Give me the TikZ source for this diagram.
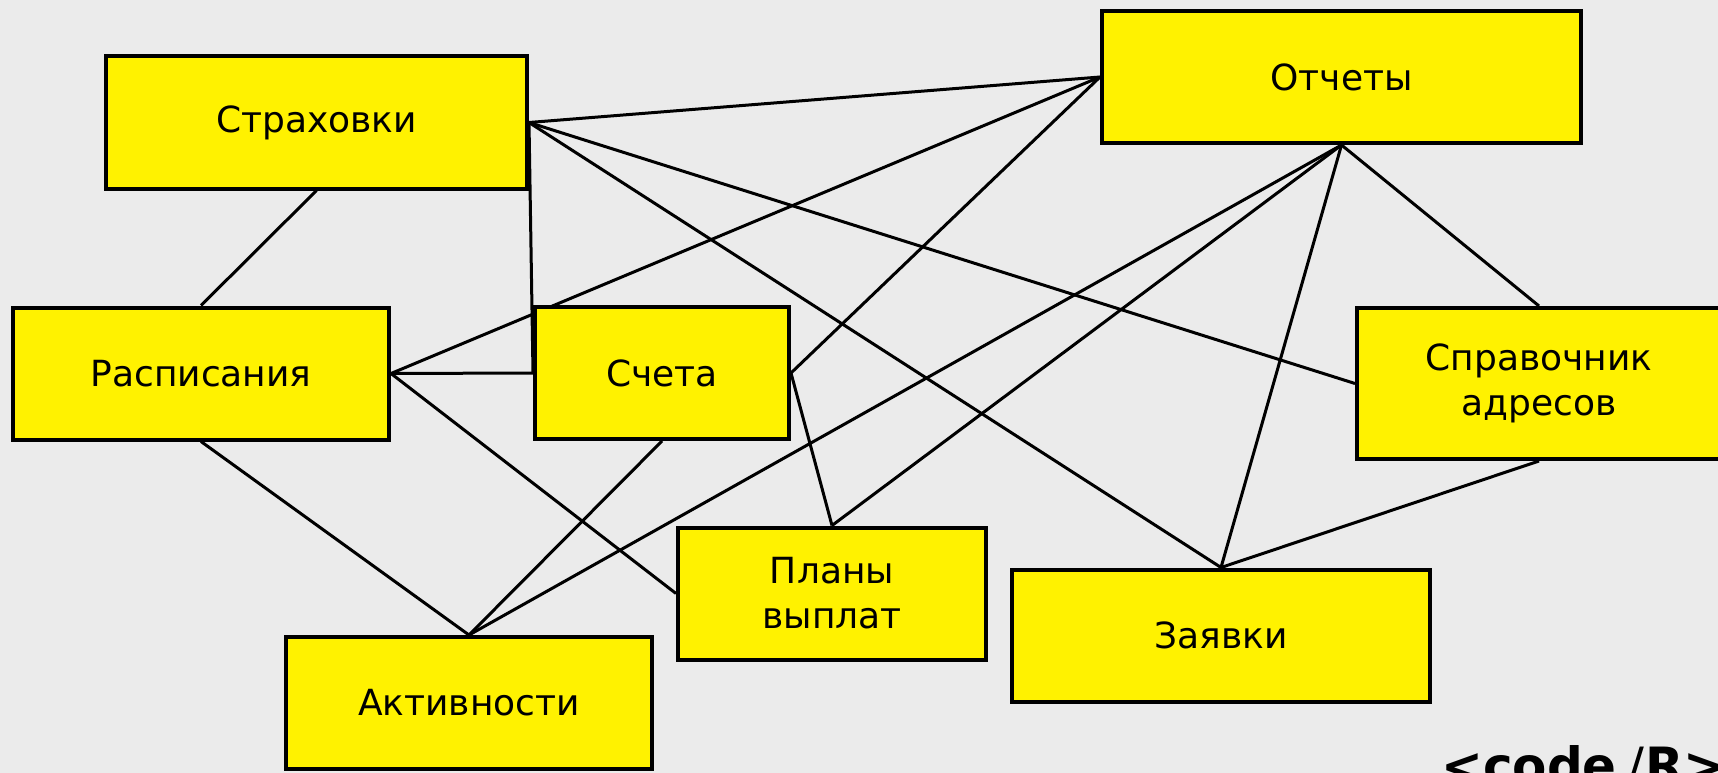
\documentclass[tikz,border=0pt]{standalone}
\usepackage{fontspec}
\setmainfont{DejaVu Sans}
\newfontfamily\logofont{DejaVu Sans}
\definecolor{bgcol}{HTML}{EBEBEB}
\definecolor{boxyellow}{HTML}{FFF200}
\pgfdeclarelayer{bgfill}
\pgfdeclarelayer{edges}
\pgfsetlayers{bgfill,edges,main}
\tikzset{
  entity/.style={draw=black, line width=4pt, fill=boxyellow, rectangle,
    minimum width=#1, minimum height=132pt, inner sep=0pt,
    align=center, font=\fontsize{36pt}{45pt}\selectfont},
  entity/.default=380pt,
  link/.style={draw=black, line width=3pt},
  logotext/.style={inner sep=0pt, font=\logofont\bfseries\fontsize{50pt}{52pt}\selectfont}
}
\begin{document}
\begin{tikzpicture}[x=1pt,y=-1pt]
\useasboundingbox (0,0) rectangle (1718,773);
\clip (0,0) rectangle (1718,773);
\begin{pgfonlayer}{bgfill}
\fill[bgcol] (0,0) rectangle (1718,773);
\end{pgfonlayer}

\node[entity=421pt] (ins) at (316.5,122.5) {Страховки};
\node[entity=479pt] (rep) at (1341.5,77) {Отчеты};
\node[entity=364pt, minimum height=151pt] (addr) at (1539,383.5) {Справочник\\адресов};
\node[entity=376pt] (sched) at (201,373.5) {Расписания};
\node[entity=254pt] (acc) at (662,373) {Счета};
\node[entity=308pt] (plan) at (832,593.5) {Планы\\выплат};
\node[entity=418pt] (req) at (1221,635.5) {Заявки};
\node[entity=366pt] (act) at (469,703) {Активности};

\node[logotext, anchor=base east] (logoA) at (1617,783) {<code};
\node[inner sep=0pt, font=\logofont\fontsize{50pt}{52pt}\selectfont, anchor=base] (logoB) at (1636,783) {/};
\node[logotext, anchor=base west] (logoC) at (1645,783) {R>};

\begin{pgfonlayer}{edges}
\draw[link] (ins.south) -- (sched.north);
\draw[link] (ins.east) -- (rep.west);
\draw[link] (ins.east) -- (addr.west);
\draw[link] (ins.east) -- (req.north);
\draw[link] (ins.east) -- (acc.west);
\draw[link] (sched.east) -- (rep.west);
\draw[link] (sched.east) -- (acc.west);
\draw[link] (sched.east) -- (plan.west);
\draw[link] (sched.south) -- (act.north);
\draw[link] (acc.east) -- (rep.west);
\draw[link] (acc.east) -- (plan.north);
\draw[link] (acc.south) -- (act.north);
\draw[link] (rep.south) -- (act.north);
\draw[link] (rep.south) -- (plan.north);
\draw[link] (rep.south) -- (req.north);
\draw[link] (rep.south) -- (addr.north);
\draw[link] (addr.south) -- (req.north);
\end{pgfonlayer}
\end{tikzpicture}
\end{document}
